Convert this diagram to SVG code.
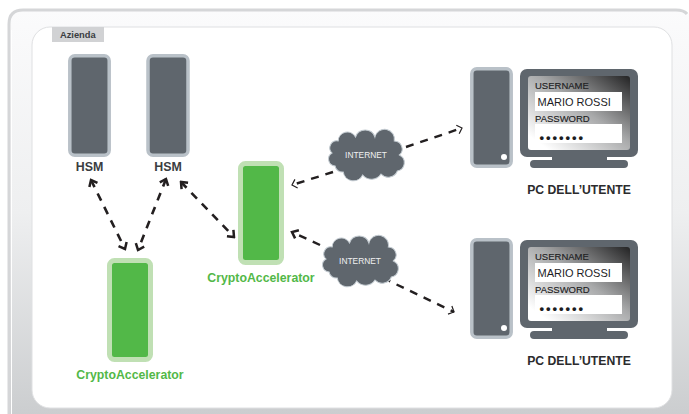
<svg xmlns="http://www.w3.org/2000/svg" width="689" height="414" viewBox="0 0 689 414">
<style>
text{font-family:"Liberation Sans",Arial,sans-serif}
.b{font-weight:700;text-anchor:middle}
.hsm{font-size:12.4px;fill:#3a3d41}
.ca{font-size:12.3px;fill:#52b848}
.pc{font-size:12.2px;fill:#2b2b2d}
.lab{font-size:9.500px;fill:#1d1d1f;stroke:#1d1d1f;stroke-width:.15}
.name{font-size:11px;fill:#1d1d1f}
.net{font-size:8.400px;fill:#f0f1f2;text-anchor:middle}
.dots{font-size:13px;font-weight:700;fill:#1d1d1f;letter-spacing:1.950px}
.tw{fill:#5f666d;stroke:#b9c1c8;stroke-width:3.500}
.cr{fill:#52b848;stroke:#c0e0b4;stroke-width:5}
.d{fill:none;stroke:#231f20;stroke-width:2.600;stroke-dasharray:8 7;marker-start:url(#a);marker-end:url(#a)}
.s{fill:none;stroke:#231f20;stroke-width:2.400;stroke-dasharray:8 7}
.cl{fill:#5f666d;stroke:#c3cbd1;stroke-width:1}
</style>
<defs>
<linearGradient id="bg" x1="0" y1="0" x2="0" y2="1"><stop offset="0" stop-color="#fbfbfc"/><stop offset=".5" stop-color="#eeeff0"/><stop offset="1" stop-color="#cbcdcf"/></linearGradient>
<linearGradient id="sc" x1="1" y1="0" x2="0" y2="1"><stop offset="0" stop-color="#232324"/><stop offset=".45" stop-color="#a8a9aa"/><stop offset=".9" stop-color="#ffffff"/></linearGradient>
<marker id="a" viewBox="-8 -6 10 12" refX="0" refY="0" markerUnits="userSpaceOnUse" markerWidth="10" markerHeight="12" orient="auto-start-reverse"><path d="M-5.500-4.500 0 0-5.500 4.500" fill="none" stroke="#231f20" stroke-width="2.500"/></marker>
<marker id="t" viewBox="-8 -6 10 12" refX="0" refY="0" markerUnits="userSpaceOnUse" markerWidth="10" markerHeight="12" orient="auto"><path d="M-4.500-4.500 0 0-4.500 4.500" fill="none" stroke="#231f20" stroke-width="1.200"/></marker>
<path id="cloudshape" class="cl" d="M6 37A7 7 0 0 1 3 24A7 7 0 0 1 9 12A9 9 0 0 1 26 8A10 10 0 0 1 45 8A9.500 9.500 0 0 1 64 12A8 8 0 0 1 69 26A8.500 8.500 0 0 1 67 42A9.500 9.500 0 0 1 51 45A11 11 0 0 1 33 46A10 10 0 0 1 14 43A7 7 0 0 1 6 37Z"/>
<g id="pcshape">
<rect class="tw" x="471.800" y="68.800" width="39.400" height="97.400" rx="5"/>
<circle cx="504" cy="157" r="3" fill="#fff"/>
<rect x="520" y="69" width="118" height="88" rx="7" fill="#5f666d"/>
<rect x="528" y="76" width="102" height="74" rx="3" fill="url(#sc)"/>
<rect x="552" y="154" width="55" height="8" fill="#5f666d"/>
<rect x="530" y="160" width="98" height="8" rx="4" fill="#5f666d"/>
<rect x="535" y="92" width="87" height="19" fill="#fff"/>
<rect x="535" y="124" width="87" height="19" fill="#fff"/>
<text class="lab" x="535" y="89">USERNAME</text>
<text class="name" x="537.500" y="106">MARIO ROSSI</text>
<text class="lab" x="535" y="122">PASSWORD</text>
<text class="dots" x="539.500" y="141.500">•••••••</text>
<text class="b pc" x="579" y="193.500">PC DELL’UTENTE</text>
</g>
</defs>
<rect x="0" y="0" width="689" height="414" fill="#fff"/>
<g id="panel">
<path d="M9 416V24Q9 10 23 10H676Q687 10 689 14V416Z" fill="url(#bg)"/>
<path d="M9 416V24Q9 10 23 10H676Q684 10 687 14" fill="none" stroke="#d5d6d8" stroke-width="3"/>
<path d="M11.500 416V30" fill="none" stroke="#fff" stroke-width="1"/>
<rect x="32" y="27" width="640" height="381" rx="18" fill="#fff" stroke="#dfe0e2" stroke-width="1"/>
<rect x="52" y="27" width="52" height="15" fill="#d1d2d4"/>
<text x="60" y="38" font-size="9.300" font-weight="700" fill="#3a3d41">Azienda</text>
</g>
<g id="connectors">
<path class="d" d="M91 180 125 249"/>
<path class="d" d="M166 179 138 250"/>
<path class="d" d="M181 182 234 237"/>
<path class="s" d="M333 172 292 185" marker-end="url(#t)"/>
<path class="s" d="M406 147 462 128" marker-end="url(#t)"/>
<path class="s" d="M320 245 292 232" marker-end="url(#a)"/>
<path class="s" d="M383 278 454 312" marker-end="url(#t)"/>
</g>
<g id="hsm1"><rect class="tw" x="69.800" y="55.800" width="39.400" height="99.400" rx="5"/><text class="b hsm" x="89.500" y="171">HSM</text></g>
<g id="hsm2"><rect class="tw" x="148" y="55.800" width="40" height="99.400" rx="5"/><text class="b hsm" x="168" y="171">HSM</text></g>
<g id="crypto1"><rect class="cr" x="109.500" y="260.500" width="41" height="99" rx="5"/><text class="b ca" x="130" y="379">CryptoAccelerator</text></g>
<g id="crypto2"><rect class="cr" x="240.500" y="163.500" width="41" height="99" rx="5"/><text class="b ca" x="261" y="282">CryptoAccelerator</text></g>
<g id="cloud1"><use href="#cloudshape" transform="translate(329 129) scale(1.020 1)"/><text class="net" x="366" y="158">INTERNET</text></g>
<g id="cloud2"><use href="#cloudshape" transform="translate(323 235) scale(1.020 1)"/><text class="net" x="360" y="264">INTERNET</text></g>
<g id="pc1"><use href="#pcshape"/></g>
<g id="pc2"><use href="#pcshape" transform="translate(0 171)"/></g>
</svg>
